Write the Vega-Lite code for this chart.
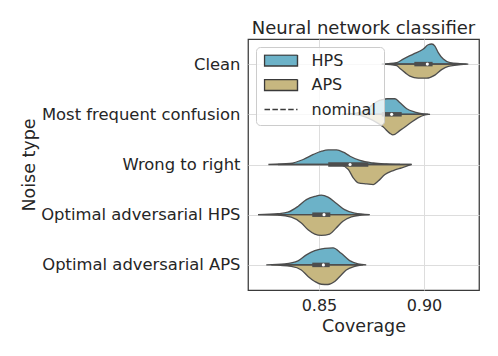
{
  "$schema": "https://vega.github.io/schema/vega-lite/v6.json",
  "width": 231,
  "height": 251,
  "autosize": {"type": "none"},
  "padding": {"left": 248, "top": 39, "right": 19, "bottom": 66},
  "background": "white",
  "title": {"text": "Neural network classifier", "fontSize": 18, "fontWeight": "normal", "font": "DejaVu Sans", "color": "#262626", "offset": 1},
  "config": {
    "font": "DejaVu Sans",
    "view": {"stroke": "#3a3a3a", "strokeWidth": 1.25},
    "axisX": {"labelFontSize": 16, "labelColor": "#262626", "titleFontSize": 17.5, "titleColor": "#262626", "titleFontWeight": "normal", "ticks": false, "domain": false, "labelPadding": 7, "titlePadding": 4, "gridColor": "#dddddd", "gridWidth": 1},
    "axisY": {"labelFontSize": 16.4, "labelColor": "#262626", "labelLimit": 400, "titleFontSize": 17.5, "titleColor": "#262626", "titleFontWeight": "normal", "ticks": false, "domain": false, "labelPadding": 8, "titlePadding": 10, "gridColor": "#dddddd", "gridWidth": 1}
  },
  "datasets": {
    "violin": [
      {"noise": "Clean", "method": "HPS", "cov": 0.8799, "d": 0},
      {"noise": "Clean", "method": "HPS", "cov": 0.8870, "d": 0.03},
      {"noise": "Clean", "method": "HPS", "cov": 0.8901, "d": 0.1},
      {"noise": "Clean", "method": "HPS", "cov": 0.8949, "d": 0.2},
      {"noise": "Clean", "method": "HPS", "cov": 0.8997, "d": 0.3},
      {"noise": "Clean", "method": "HPS", "cov": 0.9020, "d": 0.385},
      {"noise": "Clean", "method": "HPS", "cov": 0.9037, "d": 0.40},
      {"noise": "Clean", "method": "HPS", "cov": 0.9052, "d": 0.36},
      {"noise": "Clean", "method": "HPS", "cov": 0.9068, "d": 0.23},
      {"noise": "Clean", "method": "HPS", "cov": 0.9092, "d": 0.1},
      {"noise": "Clean", "method": "HPS", "cov": 0.9124, "d": 0.03},
      {"noise": "Clean", "method": "HPS", "cov": 0.9171, "d": 0.01},
      {"noise": "Clean", "method": "HPS", "cov": 0.9211, "d": 0},
      {"noise": "Clean", "method": "APS", "cov": 0.8799, "d": 0},
      {"noise": "Clean", "method": "APS", "cov": 0.8870, "d": 0.03},
      {"noise": "Clean", "method": "APS", "cov": 0.8886, "d": 0.09},
      {"noise": "Clean", "method": "APS", "cov": 0.8910, "d": 0.17},
      {"noise": "Clean", "method": "APS", "cov": 0.8933, "d": 0.24},
      {"noise": "Clean", "method": "APS", "cov": 0.8973, "d": 0.28},
      {"noise": "Clean", "method": "APS", "cov": 0.9013, "d": 0.28},
      {"noise": "Clean", "method": "APS", "cov": 0.9052, "d": 0.22},
      {"noise": "Clean", "method": "APS", "cov": 0.9084, "d": 0.11},
      {"noise": "Clean", "method": "APS", "cov": 0.9116, "d": 0.045},
      {"noise": "Clean", "method": "APS", "cov": 0.9156, "d": 0.02},
      {"noise": "Clean", "method": "APS", "cov": 0.9203, "d": 0},
      {"noise": "Most frequent confusion", "method": "HPS", "cov": 0.8610, "d": 0},
      {"noise": "Most frequent confusion", "method": "HPS", "cov": 0.8671, "d": 0.02},
      {"noise": "Most frequent confusion", "method": "HPS", "cov": 0.8719, "d": 0.07},
      {"noise": "Most frequent confusion", "method": "HPS", "cov": 0.8757, "d": 0.2},
      {"noise": "Most frequent confusion", "method": "HPS", "cov": 0.8781, "d": 0.265},
      {"noise": "Most frequent confusion", "method": "HPS", "cov": 0.8800, "d": 0.29},
      {"noise": "Most frequent confusion", "method": "HPS", "cov": 0.8824, "d": 0.31},
      {"noise": "Most frequent confusion", "method": "HPS", "cov": 0.8862, "d": 0.31},
      {"noise": "Most frequent confusion", "method": "HPS", "cov": 0.8886, "d": 0.23},
      {"noise": "Most frequent confusion", "method": "HPS", "cov": 0.8918, "d": 0.11},
      {"noise": "Most frequent confusion", "method": "HPS", "cov": 0.8957, "d": 0.045},
      {"noise": "Most frequent confusion", "method": "HPS", "cov": 0.8997, "d": 0.01},
      {"noise": "Most frequent confusion", "method": "HPS", "cov": 0.9029, "d": 0},
      {"noise": "Most frequent confusion", "method": "APS", "cov": 0.8648, "d": 0},
      {"noise": "Most frequent confusion", "method": "APS", "cov": 0.8705, "d": 0.03},
      {"noise": "Most frequent confusion", "method": "APS", "cov": 0.8757, "d": 0.12},
      {"noise": "Most frequent confusion", "method": "APS", "cov": 0.8805, "d": 0.25},
      {"noise": "Most frequent confusion", "method": "APS", "cov": 0.8838, "d": 0.38},
      {"noise": "Most frequent confusion", "method": "APS", "cov": 0.8852, "d": 0.41},
      {"noise": "Most frequent confusion", "method": "APS", "cov": 0.8886, "d": 0.32},
      {"noise": "Most frequent confusion", "method": "APS", "cov": 0.8933, "d": 0.18},
      {"noise": "Most frequent confusion", "method": "APS", "cov": 0.8971, "d": 0.07},
      {"noise": "Most frequent confusion", "method": "APS", "cov": 0.9005, "d": 0.01},
      {"noise": "Most frequent confusion", "method": "APS", "cov": 0.9020, "d": 0},
      {"noise": "Wrong to right", "method": "HPS", "cov": 0.8259, "d": 0},
      {"noise": "Wrong to right", "method": "HPS", "cov": 0.8362, "d": 0.02},
      {"noise": "Wrong to right", "method": "HPS", "cov": 0.8425, "d": 0.1},
      {"noise": "Wrong to right", "method": "HPS", "cov": 0.8473, "d": 0.2},
      {"noise": "Wrong to right", "method": "HPS", "cov": 0.8513, "d": 0.265},
      {"noise": "Wrong to right", "method": "HPS", "cov": 0.8544, "d": 0.29},
      {"noise": "Wrong to right", "method": "HPS", "cov": 0.8584, "d": 0.29},
      {"noise": "Wrong to right", "method": "HPS", "cov": 0.8616, "d": 0.245},
      {"noise": "Wrong to right", "method": "HPS", "cov": 0.8648, "d": 0.165},
      {"noise": "Wrong to right", "method": "HPS", "cov": 0.8695, "d": 0.08},
      {"noise": "Wrong to right", "method": "HPS", "cov": 0.8759, "d": 0.03},
      {"noise": "Wrong to right", "method": "HPS", "cov": 0.8822, "d": 0.01},
      {"noise": "Wrong to right", "method": "HPS", "cov": 0.8886, "d": 0},
      {"noise": "Wrong to right", "method": "APS", "cov": 0.8600, "d": 0},
      {"noise": "Wrong to right", "method": "APS", "cov": 0.8640, "d": 0.1},
      {"noise": "Wrong to right", "method": "APS", "cov": 0.8663, "d": 0.265},
      {"noise": "Wrong to right", "method": "APS", "cov": 0.8687, "d": 0.365},
      {"noise": "Wrong to right", "method": "APS", "cov": 0.8727, "d": 0.385},
      {"noise": "Wrong to right", "method": "APS", "cov": 0.8759, "d": 0.4},
      {"noise": "Wrong to right", "method": "APS", "cov": 0.8782, "d": 0.33},
      {"noise": "Wrong to right", "method": "APS", "cov": 0.8814, "d": 0.2},
      {"noise": "Wrong to right", "method": "APS", "cov": 0.8854, "d": 0.12},
      {"noise": "Wrong to right", "method": "APS", "cov": 0.8894, "d": 0.065},
      {"noise": "Wrong to right", "method": "APS", "cov": 0.8941, "d": 0},
      {"noise": "Optimal adversarial HPS", "method": "HPS", "cov": 0.8210, "d": 0},
      {"noise": "Optimal adversarial HPS", "method": "HPS", "cov": 0.8305, "d": 0.02},
      {"noise": "Optimal adversarial HPS", "method": "HPS", "cov": 0.8352, "d": 0.05},
      {"noise": "Optimal adversarial HPS", "method": "HPS", "cov": 0.8400, "d": 0.165},
      {"noise": "Optimal adversarial HPS", "method": "HPS", "cov": 0.8440, "d": 0.3},
      {"noise": "Optimal adversarial HPS", "method": "HPS", "cov": 0.8480, "d": 0.365},
      {"noise": "Optimal adversarial HPS", "method": "HPS", "cov": 0.8511, "d": 0.39},
      {"noise": "Optimal adversarial HPS", "method": "HPS", "cov": 0.8543, "d": 0.35},
      {"noise": "Optimal adversarial HPS", "method": "HPS", "cov": 0.8582, "d": 0.23},
      {"noise": "Optimal adversarial HPS", "method": "HPS", "cov": 0.8622, "d": 0.1},
      {"noise": "Optimal adversarial HPS", "method": "HPS", "cov": 0.8670, "d": 0.03},
      {"noise": "Optimal adversarial HPS", "method": "HPS", "cov": 0.8741, "d": 0},
      {"noise": "Optimal adversarial HPS", "method": "APS", "cov": 0.8210, "d": 0},
      {"noise": "Optimal adversarial HPS", "method": "APS", "cov": 0.8305, "d": 0.01},
      {"noise": "Optimal adversarial HPS", "method": "APS", "cov": 0.8368, "d": 0.05},
      {"noise": "Optimal adversarial HPS", "method": "APS", "cov": 0.8416, "d": 0.165},
      {"noise": "Optimal adversarial HPS", "method": "APS", "cov": 0.8448, "d": 0.3},
      {"noise": "Optimal adversarial HPS", "method": "APS", "cov": 0.8480, "d": 0.385},
      {"noise": "Optimal adversarial HPS", "method": "APS", "cov": 0.8511, "d": 0.41},
      {"noise": "Optimal adversarial HPS", "method": "APS", "cov": 0.8551, "d": 0.385},
      {"noise": "Optimal adversarial HPS", "method": "APS", "cov": 0.8582, "d": 0.265},
      {"noise": "Optimal adversarial HPS", "method": "APS", "cov": 0.8614, "d": 0.13},
      {"noise": "Optimal adversarial HPS", "method": "APS", "cov": 0.8654, "d": 0.045},
      {"noise": "Optimal adversarial HPS", "method": "APS", "cov": 0.8701, "d": 0.01},
      {"noise": "Optimal adversarial HPS", "method": "APS", "cov": 0.8741, "d": 0},
      {"noise": "Optimal adversarial APS", "method": "HPS", "cov": 0.8249, "d": 0},
      {"noise": "Optimal adversarial APS", "method": "HPS", "cov": 0.8337, "d": 0.02},
      {"noise": "Optimal adversarial APS", "method": "HPS", "cov": 0.8400, "d": 0.08},
      {"noise": "Optimal adversarial APS", "method": "HPS", "cov": 0.8440, "d": 0.2},
      {"noise": "Optimal adversarial APS", "method": "HPS", "cov": 0.8480, "d": 0.285},
      {"noise": "Optimal adversarial APS", "method": "HPS", "cov": 0.8527, "d": 0.33},
      {"noise": "Optimal adversarial APS", "method": "HPS", "cov": 0.8567, "d": 0.34},
      {"noise": "Optimal adversarial APS", "method": "HPS", "cov": 0.8606, "d": 0.23},
      {"noise": "Optimal adversarial APS", "method": "HPS", "cov": 0.8646, "d": 0.085},
      {"noise": "Optimal adversarial APS", "method": "HPS", "cov": 0.8686, "d": 0.02},
      {"noise": "Optimal adversarial APS", "method": "HPS", "cov": 0.8725, "d": 0},
      {"noise": "Optimal adversarial APS", "method": "APS", "cov": 0.8273, "d": 0},
      {"noise": "Optimal adversarial APS", "method": "APS", "cov": 0.8368, "d": 0.03},
      {"noise": "Optimal adversarial APS", "method": "APS", "cov": 0.8416, "d": 0.1},
      {"noise": "Optimal adversarial APS", "method": "APS", "cov": 0.8448, "d": 0.23},
      {"noise": "Optimal adversarial APS", "method": "APS", "cov": 0.8480, "d": 0.33},
      {"noise": "Optimal adversarial APS", "method": "APS", "cov": 0.8511, "d": 0.385},
      {"noise": "Optimal adversarial APS", "method": "APS", "cov": 0.8543, "d": 0.39},
      {"noise": "Optimal adversarial APS", "method": "APS", "cov": 0.8575, "d": 0.33},
      {"noise": "Optimal adversarial APS", "method": "APS", "cov": 0.8606, "d": 0.2},
      {"noise": "Optimal adversarial APS", "method": "APS", "cov": 0.8630, "d": 0.1},
      {"noise": "Optimal adversarial APS", "method": "APS", "cov": 0.8670, "d": 0.03},
      {"noise": "Optimal adversarial APS", "method": "APS", "cov": 0.8710, "d": 0}
    ],
    "boxes": [
      {"noise": "Clean", "q1": 0.8954, "q3": 0.9041, "median": 0.9016, "lo": 0.8822, "hi": 0.9171},
      {"noise": "Most frequent confusion", "q1": 0.8799, "q3": 0.8894, "median": 0.8846, "lo": 0.8671, "hi": 0.9020},
      {"noise": "Wrong to right", "q1": 0.8544, "q3": 0.8735, "median": 0.8648, "lo": 0.8305, "hi": 0.8941},
      {"noise": "Optimal adversarial HPS", "q1": 0.8468, "q3": 0.8554, "median": 0.8524, "lo": 0.8305, "hi": 0.8701},
      {"noise": "Optimal adversarial APS", "q1": 0.8468, "q3": 0.8551, "median": 0.8521, "lo": 0.8337, "hi": 0.8686}
    ]
  },
  "resolve": {"scale": {"y": "independent"}},
  "layer": [
    {
      "data": {"name": "boxes"},
      "mark": {"type": "point", "opacity": 0},
      "encoding": {
        "x": {"field": "median", "type": "quantitative", "scale": {"domain": [0.8162, 0.9262], "nice": false, "zero": false}, "axis": {"title": "Coverage", "values": [0.85, 0.9], "format": ".2f", "grid": true}},
        "y": {"field": "noise", "type": "nominal", "scale": {"type": "point", "padding": 0.5, "domain": ["Clean", "Most frequent confusion", "Wrong to right", "Optimal adversarial HPS", "Optimal adversarial APS"]}, "axis": {"title": "Noise type", "grid": true}}
      }
    },
    {"data": {"name": "violin"}, "transform": [{"filter": "datum.noise === 'Clean' && datum.method === 'HPS'"}], "mark": {"type": "area", "orient": "vertical", "interpolate": "monotone", "stroke": "#4d4d4d", "strokeWidth": 1.3, "opacity": 1},
     "encoding": {"x": {"field": "cov", "type": "quantitative"}, "y": {"field": "d", "type": "quantitative", "scale": {"domain": [-4.5, 0.5], "nice": false, "zero": false}, "axis": null}, "y2": {"datum": 0},
      "color": {"field": "method", "type": "nominal", "scale": {"domain": ["HPS", "APS", "nominal"], "range": ["#6cb2c8", "#c7b780", "#222222"]},
        "legend": {"title": null, "orient": "top-left", "offset": 8, "fillColor": "rgba(255,255,255,0.8)", "strokeColor": "#cccccc", "cornerRadius": 4, "padding": 7.5, "symbolSize": 1089, "symbolType": "M-1,-0.333H1V0.333H-1Z", "symbolStrokeWidth": 1.4, "symbolStrokeColor": "#3a3a3a", "labelOffset": 13, "labelFontSize": 16, "labelColor": "#262626", "labelFont": "DejaVu Sans", "clipHeight": 12, "rowPadding": 8.5}}}},
    {"data": {"name": "violin"}, "transform": [{"filter": "datum.noise === 'Clean' && datum.method === 'APS'"}], "mark": {"type": "area", "orient": "vertical", "interpolate": "monotone", "stroke": "#4d4d4d", "strokeWidth": 1.3, "opacity": 1},
     "encoding": {"x": {"field": "cov", "type": "quantitative"}, "y": {"field": "d", "type": "quantitative", "scale": {"domain": [-0.5, 4.5], "reverse": true, "nice": false, "zero": false}, "axis": null}, "y2": {"datum": 0}, "color": {"field": "method", "type": "nominal"}}},
    {"data": {"name": "violin"}, "transform": [{"filter": "datum.noise === 'Most frequent confusion' && datum.method === 'HPS'"}], "mark": {"type": "area", "orient": "vertical", "interpolate": "monotone", "stroke": "#4d4d4d", "strokeWidth": 1.3, "opacity": 1},
     "encoding": {"x": {"field": "cov", "type": "quantitative"}, "y": {"field": "d", "type": "quantitative", "scale": {"domain": [-3.5, 1.5], "nice": false, "zero": false}, "axis": null}, "y2": {"datum": 0}, "color": {"field": "method", "type": "nominal"}}},
    {"data": {"name": "violin"}, "transform": [{"filter": "datum.noise === 'Most frequent confusion' && datum.method === 'APS'"}], "mark": {"type": "area", "orient": "vertical", "interpolate": "monotone", "stroke": "#4d4d4d", "strokeWidth": 1.3, "opacity": 1},
     "encoding": {"x": {"field": "cov", "type": "quantitative"}, "y": {"field": "d", "type": "quantitative", "scale": {"domain": [-1.5, 3.5], "reverse": true, "nice": false, "zero": false}, "axis": null}, "y2": {"datum": 0}, "color": {"field": "method", "type": "nominal"}}},
    {"data": {"name": "violin"}, "transform": [{"filter": "datum.noise === 'Wrong to right' && datum.method === 'HPS'"}], "mark": {"type": "area", "orient": "vertical", "interpolate": "monotone", "stroke": "#4d4d4d", "strokeWidth": 1.3, "opacity": 1},
     "encoding": {"x": {"field": "cov", "type": "quantitative"}, "y": {"field": "d", "type": "quantitative", "scale": {"domain": [-2.5, 2.5], "nice": false, "zero": false}, "axis": null}, "y2": {"datum": 0}, "color": {"field": "method", "type": "nominal"}}},
    {"data": {"name": "violin"}, "transform": [{"filter": "datum.noise === 'Wrong to right' && datum.method === 'APS'"}], "mark": {"type": "area", "orient": "vertical", "interpolate": "monotone", "stroke": "#4d4d4d", "strokeWidth": 1.3, "opacity": 1},
     "encoding": {"x": {"field": "cov", "type": "quantitative"}, "y": {"field": "d", "type": "quantitative", "scale": {"domain": [-2.5, 2.5], "reverse": true, "nice": false, "zero": false}, "axis": null}, "y2": {"datum": 0}, "color": {"field": "method", "type": "nominal"}}},
    {"data": {"name": "violin"}, "transform": [{"filter": "datum.noise === 'Optimal adversarial HPS' && datum.method === 'HPS'"}], "mark": {"type": "area", "orient": "vertical", "interpolate": "monotone", "stroke": "#4d4d4d", "strokeWidth": 1.3, "opacity": 1},
     "encoding": {"x": {"field": "cov", "type": "quantitative"}, "y": {"field": "d", "type": "quantitative", "scale": {"domain": [-1.5, 3.5], "nice": false, "zero": false}, "axis": null}, "y2": {"datum": 0}, "color": {"field": "method", "type": "nominal"}}},
    {"data": {"name": "violin"}, "transform": [{"filter": "datum.noise === 'Optimal adversarial HPS' && datum.method === 'APS'"}], "mark": {"type": "area", "orient": "vertical", "interpolate": "monotone", "stroke": "#4d4d4d", "strokeWidth": 1.3, "opacity": 1},
     "encoding": {"x": {"field": "cov", "type": "quantitative"}, "y": {"field": "d", "type": "quantitative", "scale": {"domain": [-3.5, 1.5], "reverse": true, "nice": false, "zero": false}, "axis": null}, "y2": {"datum": 0}, "color": {"field": "method", "type": "nominal"}}},
    {"data": {"name": "violin"}, "transform": [{"filter": "datum.noise === 'Optimal adversarial APS' && datum.method === 'HPS'"}], "mark": {"type": "area", "orient": "vertical", "interpolate": "monotone", "stroke": "#4d4d4d", "strokeWidth": 1.3, "opacity": 1},
     "encoding": {"x": {"field": "cov", "type": "quantitative"}, "y": {"field": "d", "type": "quantitative", "scale": {"domain": [-0.5, 4.5], "nice": false, "zero": false}, "axis": null}, "y2": {"datum": 0}, "color": {"field": "method", "type": "nominal"}}},
    {"data": {"name": "violin"}, "transform": [{"filter": "datum.noise === 'Optimal adversarial APS' && datum.method === 'APS'"}], "mark": {"type": "area", "orient": "vertical", "interpolate": "monotone", "stroke": "#4d4d4d", "strokeWidth": 1.3, "opacity": 1},
     "encoding": {"x": {"field": "cov", "type": "quantitative"}, "y": {"field": "d", "type": "quantitative", "scale": {"domain": [-4.5, 0.5], "reverse": true, "nice": false, "zero": false}, "axis": null}, "y2": {"datum": 0}, "color": {"field": "method", "type": "nominal"}}},
    {
      "data": {"name": "boxes"},
      "layer": [
        {"mark": {"type": "rule", "color": "#4d4d4d", "strokeWidth": 1.3},
         "encoding": {"x": {"field": "lo", "type": "quantitative"}, "x2": {"field": "hi"},
           "y": {"field": "noise", "type": "nominal", "scale": {"type": "point", "padding": 0.5, "domain": ["Clean", "Most frequent confusion", "Wrong to right", "Optimal adversarial HPS", "Optimal adversarial APS"]}, "axis": null}}},
        {"mark": {"type": "rule", "color": "#4d4d4d", "strokeWidth": 4.5},
         "encoding": {"x": {"field": "q1", "type": "quantitative"}, "x2": {"field": "q3"},
           "y": {"field": "noise", "type": "nominal", "axis": null}}},
        {"mark": {"type": "point", "filled": true, "color": "white", "size": 10, "opacity": 1, "shape": "circle"},
         "encoding": {"x": {"field": "median", "type": "quantitative"},
           "y": {"field": "noise", "type": "nominal", "axis": null}}}
      ]
    },
    {
      "data": {"name": "boxes"},
      "transform": [{"filter": "datum.q1 > 1"}],
      "mark": {"type": "point"},
      "encoding": {
        "x": {"field": "median", "type": "quantitative"},
        "shape": {"datum": "nominal", "type": "nominal", "scale": {"domain": ["HPS", "APS", "nominal"], "range": ["M-1,-0.333H1V0.333H-1Z", "M-1,-0.333H1V0.333H-1Z", "M-1,0H1"]}}
      }
    },
    {
      "mark": {"type": "rule", "strokeWidth": 1.5, "color": "#222222"},
      "encoding": {"x": {"datum": 0.9, "type": "quantitative"},
        "strokeDash": {"datum": "nominal", "type": "nominal", "scale": {"domain": ["HPS", "APS", "nominal"], "range": [[1, 0], [1, 0], [5.5, 2.4]]}}}
    }
  ]
}
